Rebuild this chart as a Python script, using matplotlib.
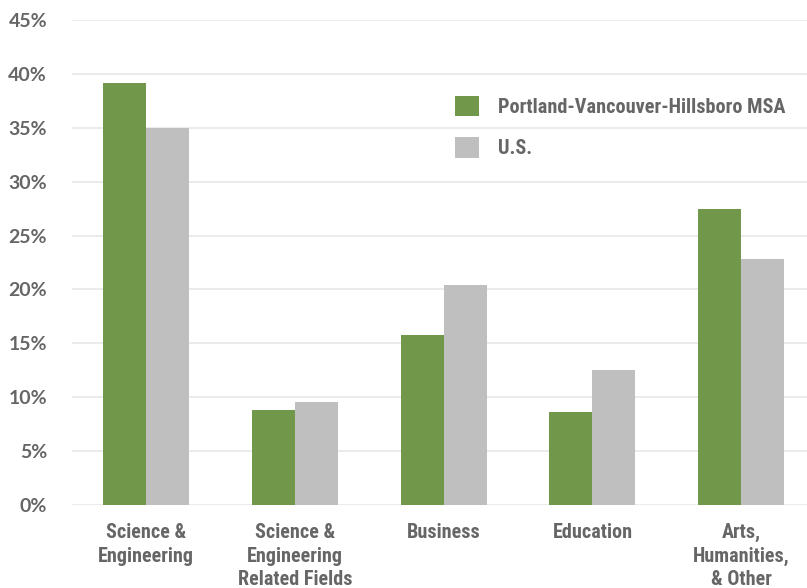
import matplotlib
matplotlib.use("Agg")
from matplotlib import pyplot as plt
from matplotlib import font_manager
import numpy as np

categories = ["Science &\nEngineering", "Science &\nEngineering\nRelated Fields",
              "Business", "Education", "Arts,\nHumanities,\n& Other"]
portland = [39.2, 8.8, 15.8, 8.6, 27.5]
us = [35.0, 9.6, 20.4, 12.5, 22.8]
series_names = ["Portland-Vancouver-Hillsboro MSA", "U.S."]

names = {f.name for f in font_manager.fontManager.ttflist}
narrow = "Liberation Sans Narrow" if "Liberation Sans Narrow" in names else "Roboto Condensed" if "Roboto Condensed" in names else "Liberation Sans"

green = "#71984A"
grey = "#BFBFBF"
txt = "#666666"

fig = plt.figure(figsize=(8.07, 5.88), dpi=100)
# category step in the reference is ~148.7 px, right part of last slot is cut off
ax = fig.add_axes([72/807, 1-505/588, 743.5/807, 485/588])

x = np.arange(len(categories))
w = 43/148.7
ax.bar(x - w/2, portland, w, color=green, label=series_names[0], zorder=2)
ax.bar(x + w/2, us, w, color=grey, label=series_names[1], zorder=2)

ax.set_xlim(-0.5, 4.5)
ax.set_ylim(0, 45)
ax.set_yticks(range(0, 46, 5))
ax.set_yticklabels([f"{v}%" for v in range(0, 46, 5)], fontsize=14, fontweight="bold",
                   color=txt, fontfamily="Lato")
ax.set_xticks(x)
ax.set_xticklabels(categories, fontsize=14.5, fontweight="bold", color=txt,
                   fontfamily=narrow, linespacing=1.3, va="top")
ax.tick_params(axis="both", length=0)
ax.tick_params(axis="x", pad=13)
ax.tick_params(axis="y", pad=18)
ax.grid(axis="y", color="#E8E8E8", linewidth=1.2, zorder=0)
for s in ax.spines.values():
    s.set_visible(False)

leg = ax.legend(loc="upper left", frameon=False,
                prop={"family": narrow, "weight": "bold", "size": 14.6},
                handlelength=1.15, handleheight=1.15, handletextpad=0.95, labelspacing=1.0)
leg.set_bbox_to_anchor((437/807, 1-78/588), transform=fig.transFigure)
for t in leg.get_texts():
    t.set_color(txt)

fig.savefig("out.png", dpi=100)
